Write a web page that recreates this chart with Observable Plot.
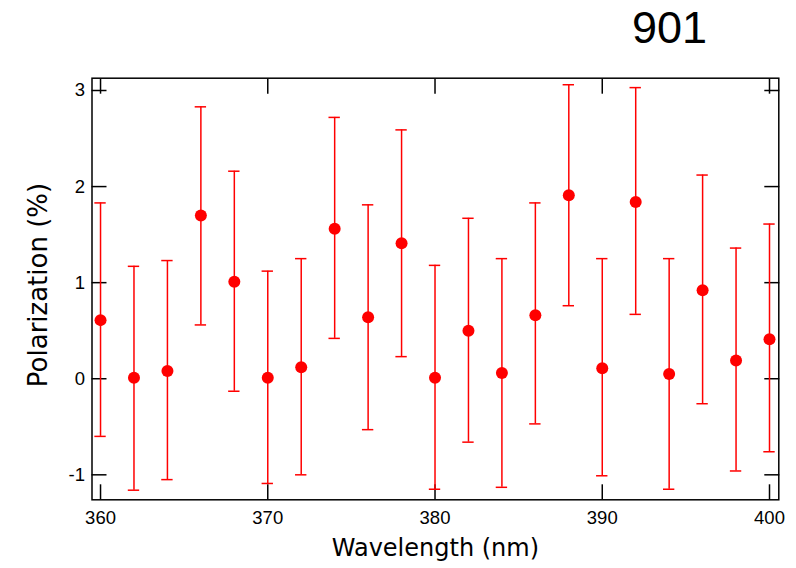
<!DOCTYPE html>
<html><head><meta charset="utf-8">
<script src="https://cdn.jsdelivr.net/npm/d3@7"></script>
<script src="https://cdn.jsdelivr.net/npm/@observablehq/plot@0.6"></script>
<style>
body{margin:0;background:#fff;}
#wrap{position:relative;width:796px;height:568px;}
#title{position:absolute;left:632px;top:2px;font-family:"Liberation Sans",Arial,sans-serif;font-size:45px;line-height:52px;color:#000;}
</style></head><body><div id="wrap"><div id="title">901</div></div>
<script>
const wavelength = [360,362,364,366,368,370,372,374,376,378,380,382,384,386,388,390,392,394,396,398,400];
const polarization = [0.61,0.01,0.08,1.70,1.01,0.01,0.12,1.56,0.64,1.41,0.01,0.50,0.06,0.66,1.91,0.11,1.84,0.05,0.92,0.19,0.41];
const errLow = [-0.60,-1.16,-1.05,0.56,-0.13,-1.09,-1.00,0.42,-0.53,0.23,-1.15,-0.66,-1.13,-0.47,0.76,-1.01,0.67,-1.15,-0.26,-0.96,-0.76];
const errHigh = [1.83,1.17,1.23,2.83,2.16,1.12,1.25,2.72,1.81,2.59,1.18,1.67,1.25,1.83,3.06,1.25,3.03,1.25,2.12,1.36,1.61];
const xTicks = [360,370,380,390,400];
const yTicks = [-1,0,1,2,3];
const xTitle = "Wavelength (nm)";
const yTitle = "Polarization (%)";

const data = wavelength.map((x,i)=>({x, y: polarization[i], lo: errLow[i], hi: errHigh[i]}));
const capHalf = 0.34;
const titleFont = "'Comic Sans MS','DejaVu Sans',sans-serif";
const tickFont = "'Liberation Sans', Arial, sans-serif";
const fmt = d => String(d);

const chart = Plot.plot({
  width: 796, height: 568,
  marginLeft: 91.5, marginRight: 17.7, marginTop: 77.7, marginBottom: 68.7,
  style: {fontFamily: tickFont, fontSize: "18.5px", color: "#000", background: "#fff"},
  x: {domain: [359.49, 400.556]},
  y: {domain: [-1.26, 3.128]},
  marks: [
    Plot.axisX(xTicks, {anchor: "bottom", tickSize: -15, text: null, label: null, strokeWidth: 1.5}),
    Plot.axisX(xTicks, {anchor: "top", tickSize: -15, text: null, label: null, strokeWidth: 1.5}),
    Plot.axisY(yTicks, {anchor: "left", tickSize: -15, text: null, label: null, strokeWidth: 1.5}),
    Plot.axisY(yTicks, {anchor: "right", tickSize: -15, text: null, label: null, strokeWidth: 1.5}),
    Plot.axisX(xTicks, {anchor: "bottom", tickSize: 0, tickPadding: 11, label: null, fontSize: 18.5, tickFormat: fmt}),
    Plot.axisY(yTicks, {anchor: "left", tickSize: 0, tickPadding: 7, label: null, fontSize: 18.5, tickFormat: fmt}),
    Plot.frame({stroke: "#000", strokeWidth: 1.5}),
    Plot.ruleX(data, {x: "x", y1: "lo", y2: "hi", stroke: "#ff0000", strokeWidth: 1.5}),
    Plot.ruleY(data, {y: "hi", x1: d => d.x - capHalf, x2: d => d.x + capHalf, stroke: "#ff0000", strokeWidth: 1.5}),
    Plot.ruleY(data, {y: "lo", x1: d => d.x - capHalf, x2: d => d.x + capHalf, stroke: "#ff0000", strokeWidth: 1.5}),
    Plot.dot(data, {x: "x", y: "y", r: 6, fill: "#ff0000"}),
    Plot.text([xTitle], {frameAnchor: "bottom", dy: 49, textAnchor: "middle", lineAnchor: "middle", fontSize: 24, fontFamily: titleFont, fill: "#000"}),
    Plot.text([yTitle], {frameAnchor: "left", dx: -53, dy: -4, rotate: -90, textAnchor: "middle", lineAnchor: "middle", fontSize: 26, fontFamily: titleFont, fill: "#000"})
  ]
});
document.getElementById("wrap").prepend(chart);
</script>
</body></html>
